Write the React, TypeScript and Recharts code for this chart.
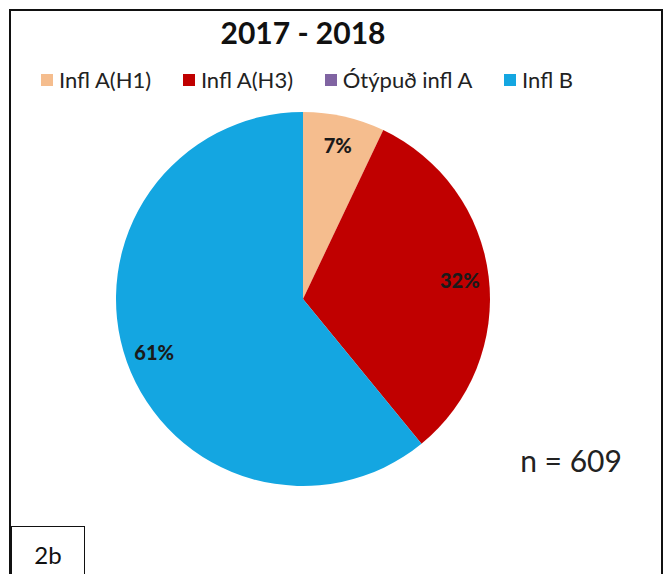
import React from "react";
import { PieChart, Pie, Cell } from "recharts";

const categories = ["Infl A(H1)", "Infl A(H3)", "Ótýpuð infl A", "Infl B"];
const counts = [43, 195, 0, 371];
const colors = ["#F5BD8E", "#C00000", "#8064A2", "#14A6E1"];
const titleText = "2017 - 2018";
const totalLabel = "n = 609";
const panelLabel = "2b";

const data = categories.map((name, i) => ({ name, value: counts[i] }));
const total = counts.reduce((a, b) => a + b, 0);

const FONT = "Lato, 'Open Sans', sans-serif";
const RAD = Math.PI / 180;

const renderLabel = (props: any) => {
  const { cx, cy, midAngle, outerRadius, value } = props;
  if (!value) return null;
  const r = outerRadius * 0.845;
  const x = cx + r * Math.cos(-midAngle * RAD);
  const y = cy + r * Math.sin(-midAngle * RAD);
  return (
    <text
      x={x}
      y={y}
      textAnchor="middle"
      dominantBaseline="central"
      fontFamily={FONT}
      fontWeight={900}
      fontSize={20}
      fill="#1a1a1a"
    >
      {`${Math.round((value / total) * 100)}%`}
    </text>
  );
};

export default function App() {
  return (
    <div
      style={{
        position: "absolute",
        left: 0,
        top: 0,
        width: 671,
        height: 574,
        background: "#fff",
        overflow: "hidden",
      }}
    >
      <div
        style={{
          position: "absolute",
          left: 9,
          top: 9,
          width: 654,
          height: 600,
          border: "2px solid #111",
          boxSizing: "border-box",
        }}
      />
      <div
        style={{
          position: "absolute",
          left: 41,
          top: 66,
          width: 532,
          display: "flex",
          justifyContent: "space-between",
          fontFamily: FONT,
          fontSize: 22,
          color: "#222",
          whiteSpace: "nowrap",
        }}
      >
        {categories.map((c, i) => (
          <div key={c} style={{ display: "flex", alignItems: "center" }}>
            <span
              style={{
                width: 12,
                height: 12,
                background: colors[i],
                display: "inline-block",
                marginRight: 6,
              }}
            />
            <span>{c}</span>
          </div>
        ))}
      </div>
      <PieChart
        width={671}
        height={574}
        margin={{ top: 0, right: 0, bottom: 0, left: 0 }}
        style={{ position: "absolute", left: 0, top: 0 }}
      >
        <text
          x={303}
          y={44}
          textAnchor="middle"
          fontFamily={FONT}
          fontWeight={700}
          fontSize={30}
          fill="#111"
        >
          {titleText}
        </text>
        <Pie
          data={data}
          dataKey="value"
          nameKey="name"
          cx={303}
          cy={299}
          outerRadius={187}
          startAngle={90}
          endAngle={-270}
          stroke="none"
          label={renderLabel}
          labelLine={false}
          isAnimationActive={false}
        >
          {data.map((d, i) => (
            <Cell key={d.name} fill={colors[i]} />
          ))}
        </Pie>
        <text
          x={571}
          y={460}
          textAnchor="middle"
          dominantBaseline="central"
          fontFamily={FONT}
          fontSize={30}
          fill="#222"
        >
          {totalLabel}
        </text>
      </PieChart>
      <div
        style={{
          position: "absolute",
          left: 11,
          top: 526,
          width: 74,
          height: 80,
          border: "1.5px solid #111",
          boxSizing: "border-box",
          background: "#fff",
        }}
      />
      <div
        style={{
          position: "absolute",
          left: 11,
          top: 540,
          width: 74,
          textAlign: "center",
          fontFamily: FONT,
          fontSize: 24,
          color: "#111",
        }}
      >
        {panelLabel}
      </div>
    </div>
  );
}
